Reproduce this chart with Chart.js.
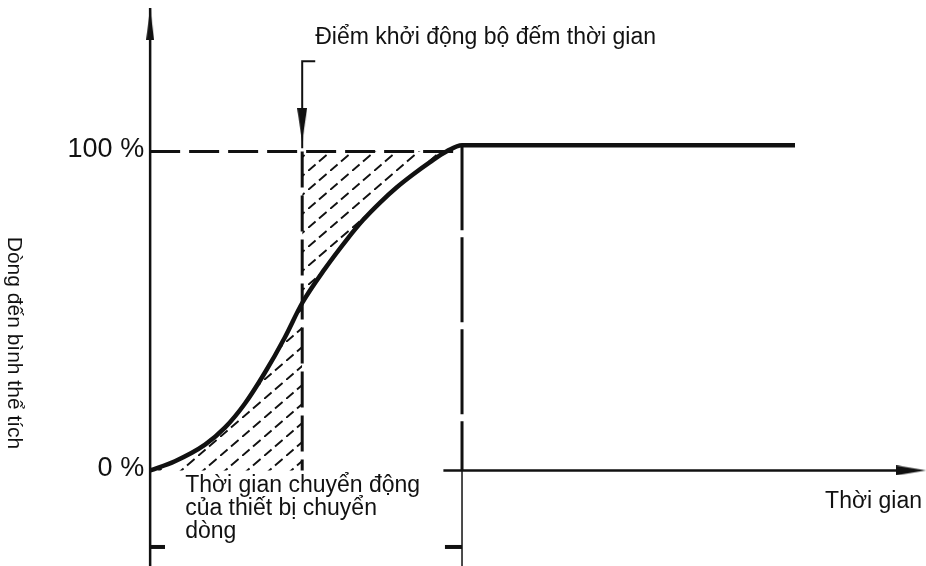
<!DOCTYPE html>
<html><head><meta charset="utf-8">
<script src="https://cdn.jsdelivr.net/npm/chart.js@4/dist/chart.umd.min.js"></script>
<style>html,body{margin:0;padding:0;background:#fff;overflow:hidden;}canvas{display:block;}</style>
</head><body><canvas id="c" width="926" height="566"></canvas>
<script>
// ---- data (time units, % of flow) ----
const curveX = [0, 0.80, 1.77, 2.41, 3.05, 3.70, 4.34, 4.90, 5.63, 6.34, 6.86, 7.41, 7.95, 8.47, 9.02, 9.56, 10.05, 20.78];
const curveY = [0, 2.9, 8.1, 13.4, 20.9, 30.7, 41.7, 52.5, 63.2, 72.4, 78.5, 84.0, 88.8, 92.8, 96.7, 100.1, 102.0, 102.0];
const timerStart = 4.90;      // timer start point
const switchEnd = 10.05;      // end of switching device motion
const fullLevel = 100;
const yAxisRange = [-30, 145];
const xAxisRange = [9.45, 24.9];
const dimLevel = -24;
const yTickValues = [0, 100];
const yTickLabels = ['0 %', '100 %'];
const yTitle = 'Dòng đến bình thể tích';
const xTitle = 'Thời gian';
const timerLabel = 'Điểm khởi động bộ đếm thời gian';
const motionLabel = ['Thời gian chuyển động', 'của thiết bị chuyển', 'dòng'];

const INK = '#111';
const canvas = document.getElementById('c');
const pts = (xs, ys) => xs.map((v, i) => ({x: v, y: ys[i]}));
const curvePts = pts(curveX, curveY);
const lowerPts = curvePts.filter(p => p.x <= timerStart);
const upperPts = curvePts.filter(p => p.x >= timerStart && p.x <= switchEnd);

function arrowImg(w, h) {
  const c = document.createElement('canvas'); c.width = w; c.height = h;
  const g = c.getContext('2d'); g.fillStyle = INK;
  g.beginPath(); g.moveTo(w / 2, 0); g.lineTo(w, h); g.lineTo(0, h); g.closePath(); g.fill();
  return c;
}
function hatchPattern() {
  const w = 22, h = 19, L = Math.hypot(w, h);
  const c = document.createElement('canvas'); c.width = w; c.height = h;
  const g = c.getContext('2d');
  g.strokeStyle = '#111'; g.lineWidth = 1.9; g.setLineDash([10, L / 2 - 10]);
  g.beginPath(); g.moveTo(-w, 2 * h); g.lineTo(2 * w, -h); g.stroke();
  return canvas.getContext('2d').createPattern(c, 'repeat');
}
const hatch = hatchPattern();

const line = (data, extra) => Object.assign({
  data, borderColor: INK, borderWidth: 3, pointRadius: 0, fill: false, clip: false, tension: 0
}, extra || {});
const arrow = (x, y, img, rot) => ({
  data: [{x, y}], showLine: false, pointStyle: img, pointRadius: 5, pointRotation: rot,
  pointBackgroundColor: INK, pointBorderWidth: 0, clip: false
});

const datasets = [
  line(curvePts, {borderWidth: 4.5, cubicInterpolationMode: 'monotone'}),
  line(lowerPts, {borderWidth: 0, fill: 'origin', backgroundColor: hatch, cubicInterpolationMode: 'monotone'}),
  line(upperPts, {borderWidth: 0, fill: {value: fullLevel}, backgroundColor: hatch, cubicInterpolationMode: 'monotone'}),
  line([{x: 0, y: fullLevel}, {x: switchEnd, y: fullLevel}], {borderDash: [30, 9]}),
  line([{x: timerStart, y: fullLevel}, {x: timerStart, y: 0}], {borderDash: [36, 8]}),
  line([{x: switchEnd, y: curveY[curveY.length - 1]}, {x: switchEnd, y: 0}], {borderDash: [85, 7]}),
  line([{x: switchEnd, y: 0}, {x: switchEnd, y: yAxisRange[0]}], {borderWidth: 1.5}),
  line([{x: 0, y: yAxisRange[0]}, {x: 0, y: yAxisRange[1]}], {borderWidth: 2.5}),
  line([{x: xAxisRange[0], y: 0}, {x: xAxisRange[1] - 0.5, y: 0}], {borderWidth: 2.5}),
  line([{x: timerStart + 0.42, y: 128.3}, {x: timerStart, y: 128.3}, {x: timerStart, y: 101}], {borderWidth: 2}),
  line([{x: 0, y: dimLevel}, {x: 0.48, y: dimLevel}], {borderWidth: 4}),
  line([{x: switchEnd - 0.55, y: dimLevel}, {x: switchEnd, y: dimLevel}], {borderWidth: 4}),
  arrow(0, 140, arrowImg(8, 32), 0),
  arrow(24.52, 0, arrowImg(10, 30), 90),
  arrow(timerStart, 108.3, arrowImg(10, 34), 180)
];

const textPlugin = {
  id: 'texts',
  afterDraw(chart) {
    const {ctx, scales: {x, y}} = chart;
    const F = '"Liberation Sans", Arial, sans-serif';
    ctx.save();
    ctx.fillStyle = INK;
    ctx.font = '27px ' + F; ctx.textAlign = 'right'; ctx.textBaseline = 'middle';
    yTickValues.forEach((v, i) => ctx.fillText(yTickLabels[i], x.getPixelForValue(0) - 6, y.getPixelForValue(v) - 2));
    ctx.font = '23px ' + F; ctx.textAlign = 'left'; ctx.textBaseline = 'alphabetic';
    ctx.fillText(timerLabel, x.getPixelForValue(timerStart) + 13, 44);
    motionLabel.forEach((s, i) => ctx.fillText(s, x.getPixelForValue(0) + 35, 492 + i * 23));
    ctx.textAlign = 'right';
    ctx.fillText(xTitle, 922, 508);
    ctx.font = '21px ' + F; ctx.textAlign = 'center';
    ctx.translate(8, 343); ctx.rotate(Math.PI / 2);
    ctx.fillText(yTitle, 0, 0);
    ctx.restore();
  }
};

new Chart(canvas, {
  type: 'line',
  data: {datasets},
  options: {
    responsive: false, animation: false, devicePixelRatio: 1,
    layout: {padding: {left: 26, right: 0, top: 8, bottom: 0}},
    scales: {
      x: {type: 'linear', min: -4, max: 24.84, display: false},
      y: {type: 'linear', min: -28.4, max: yAxisRange[1], display: false}
    },
    plugins: {legend: {display: false}, tooltip: {enabled: false}}
  },
  plugins: [textPlugin]
});
</script></body></html>
